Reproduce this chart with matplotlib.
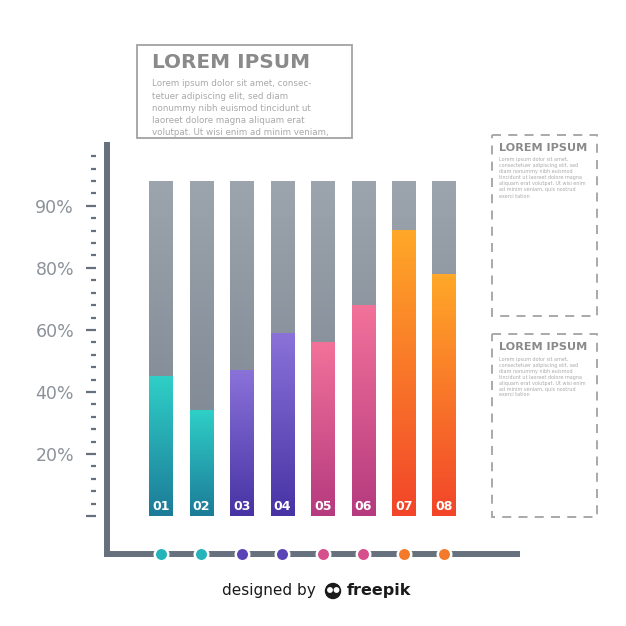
import numpy as np
import matplotlib
matplotlib.use('Agg')
import matplotlib.pyplot as plt
from matplotlib.colors import LinearSegmentedColormap
from matplotlib.patches import Rectangle, Circle
from matplotlib.ticker import FixedLocator

# data
labels = ['01', '02', '03', '04', '05', '06', '07', '08']
values = [45, 34, 47, 59, 56, 68, 92, 78]
track_top = 108
ytick_pos = [20, 40, 60, 80, 100]
ytick_labels = ['20%', '40%', '60%', '80%', '90%']

# (bottom colour, top colour) of each bar, and the dot colour
bar_colors = [('#1c7b98', '#2fcfc7'), ('#1c7b98', '#2fcfc7'),
              ('#4733a4', '#8a72d9'), ('#4733a4', '#8a72d9'),
              ('#b53a7f', '#f2729a'), ('#b53a7f', '#f2729a'),
              ('#f2452a', '#ffa828'), ('#f2452a', '#ffa828')]
dot_colors = ['#26b4bb', '#26b4bb', '#5a44b6', '#5a44b6',
              '#d8508b', '#d8508b', '#f47a2a', '#f47a2a']
gray = ('#77818c', '#9ca4ad')
axis_color = '#66717d'
label_gray = '#8c9299'

W = H = 626
fig = plt.figure(figsize=(6.26, 6.26), dpi=100)


def fx(px):
    return px / W


def fy(py):
    return 1 - py / H


# main chart axes (pixel box 107..518 x 142..553.5)
ax = fig.add_axes([fx(107), fy(553.5), fx(517) - fx(107), fy(142) - fy(553.5)])
ax.patch.set_visible(False)
xlim = (-1.336, 8.80)
ylim = (-12.1, 120.6)

grad = np.linspace(0, 1, 256).reshape(-1, 1)
width = 0.58
x = np.arange(len(labels))
gray_cmap = LinearSegmentedColormap.from_list('g', gray)
for i, v in enumerate(values):
    ax.imshow(grad, extent=(x[i] - width / 2, x[i] + width / 2, 0, track_top),
              origin='lower', cmap=gray_cmap, aspect='auto', zorder=1)
    cm = LinearSegmentedColormap.from_list('c%d' % i, bar_colors[i])
    ax.imshow(grad, extent=(x[i] - width / 2, x[i] + width / 2, 0, v),
              origin='lower', cmap=cm, aspect='auto', zorder=2)
    ax.text(x[i], 3, labels[i], color='white', fontsize=9, fontweight='bold',
            ha='center', va='center', zorder=3)

ax.set_xlim(*xlim)
ax.set_ylim(*ylim)
ax.set_xticks([])

for s in ['top', 'right']:
    ax.spines[s].set_visible(False)
ax.spines['left'].set_position(('outward', 7.9))
ax.spines['left'].set_visible(False)
ax.spines['bottom'].set_linewidth(4.3)
ax.spines['bottom'].set_color(axis_color)
ax.axvline(xlim[0], ymin=-0.008, ymax=1, color=axis_color, lw=4.3,
           clip_on=False, solid_capstyle='butt', zorder=5)

ax.yaxis.set_major_locator(FixedLocator([0] + ytick_pos))
ax.set_yticklabels([''] + ytick_labels)
minor = [t for t in range(0, 117, 4) if t % 20 != 0]
ax.yaxis.set_minor_locator(FixedLocator(minor))
ax.tick_params(axis='y', which='major', length=7.2, width=1.6, color=axis_color,
               pad=8.6, labelsize=12.5, labelcolor=label_gray)
ax.tick_params(axis='y', which='minor', length=3.4, width=1.6, color=axis_color)

# dots on the x axis
for i in range(len(labels)):
    ax.plot(x[i], ylim[0], 'o', ms=11.5, color='white', mew=0, clip_on=False, zorder=6)
    ax.plot(x[i], ylim[0], 'o', ms=7.9, color=dot_colors[i], mew=0, clip_on=False, zorder=7)

# overlay in pixel coordinates for text boxes and the credit line
ov = fig.add_axes([0, 0, 1, 1], zorder=2)
ov.set_xlim(0, W)
ov.set_ylim(H, 0)
ov.axis('off')

box_gray = '#a3a3a3'
title_gray = '#8a8a8a'
text_gray = '#a9a9a9'

ov.add_patch(Rectangle((137, 45), 215, 93, fill=False, ec=box_gray, lw=1.3))
ov.text(152, 62, 'LOREM IPSUM', fontsize=14.4, fontweight='bold', color=title_gray,
        va='center', ha='left')
main_lines = ['Lorem ipsum dolor sit amet, consec-',
              'tetuer adipiscing elit, sed diam',
              'nonummy nibh euismod tincidunt ut',
              'laoreet dolore magna aliquam erat',
              'volutpat. Ut wisi enim ad minim veniam,']
for k, line in enumerate(main_lines):
    ov.text(152, 84 + 12.2 * k, line, fontsize=6.35, color=text_gray, va='center', ha='left')

side_lines = ['Lorem ipsum dolor sit amet,',
              'consectetuer adipiscing elit, sed',
              'diam nonummy nibh euismod',
              'tincidunt ut laoreet dolore magna',
              'aliquam erat volutpat. Ut wisi enim',
              'ad minim veniam, quis nostrud',
              'exerci tation']
for top, bottom in [(135, 316), (334, 517)]:
    ov.add_patch(Rectangle((492, top), 105, bottom - top, fill=False, ec=box_gray,
                           lw=1.3, ls=(0, (5, 4))))
    ov.text(499, top + 13, 'LOREM IPSUM', fontsize=8.1, fontweight='bold',
            color=title_gray, va='center', ha='left')
    for k, line in enumerate(side_lines):
        ov.text(499, top + 25 + 6 * k, line, fontsize=3.5, color=text_gray,
                va='center', ha='left')

# credit line
ov.text(316, 590, 'designed by', fontsize=11, color='#1a1a1a', va='center', ha='right')
ov.add_patch(Circle((333, 591), 7.5, color='#1a1a1a'))
ov.add_patch(Circle((330, 590), 2.2, color='white'))
ov.add_patch(Circle((336.5, 590), 2.2, color='white'))
ov.text(347, 590, 'freepik', fontsize=11.5, fontweight='bold', color='#1a1a1a',
        va='center', ha='left')

fig.savefig('out.png', dpi=100)
